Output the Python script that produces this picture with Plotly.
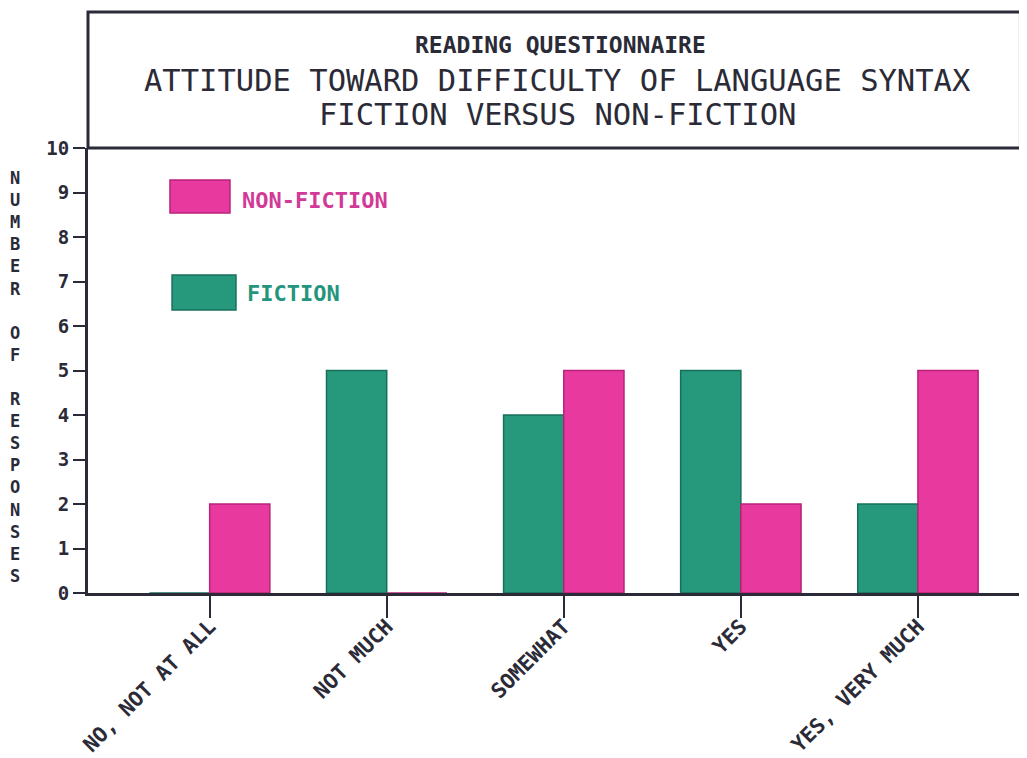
import plotly.graph_objects as go

categories = ["NO, NOT AT ALL", "NOT MUCH", "SOMEWHAT", "YES", "YES, VERY MUCH"]
fiction = [0, 5, 4, 5, 2]
non_fiction = [2, 0, 5, 2, 5]
y_ticks = list(range(0, 11))

title_lines = ["READING QUESTIONNAIRE",
               "ATTITUDE TOWARD DIFFICULTY OF LANGUAGE SYNTAX",
               "FICTION VERSUS NON-FICTION"]
y_title = "NUMBER OF RESPONSES"

GREEN = "#26997C"
GREEN_EDGE = "#17705B"
PINK = "#E83A9E"
PINK_EDGE = "#B8237A"
INK = "#2B2B38"
MONO = "DejaVu Sans Mono"

fig = go.Figure()
fig.add_trace(go.Bar(x=categories, y=fiction, name="FICTION",
                     marker=dict(color=GREEN, line=dict(color=GREEN_EDGE, width=1.5))))
fig.add_trace(go.Bar(x=categories, y=non_fiction, name="NON-FICTION",
                     marker=dict(color=PINK, line=dict(color=PINK_EDGE, width=1.5))))

fig.update_layout(
    width=1019, height=750,
    margin=dict(l=80, r=0, t=140, b=165),
    paper_bgcolor="white", plot_bgcolor="white",
    barmode="group", bargap=0.32, bargroupgap=0,
    showlegend=False,
    font=dict(family=MONO, color=INK),
)
fig.update_xaxes(
    range=[-0.687, 4.616], showgrid=False, zeroline=False,
    showline=True, linecolor=INK, linewidth=3,
    ticks="outside", ticklen=22, tickwidth=2, tickcolor=INK,
    tickangle=-45, tickfont=dict(family=MONO, size=21, color=INK, weight="bold"),
    ticklabelstandoff=-12,
    automargin=False,
)
fig.update_yaxes(
    range=[0, 10], tickvals=y_ticks, showgrid=False, zeroline=False,
    showline=True, linecolor=INK, linewidth=3,
    ticks="outside", ticklen=12, tickwidth=2, tickcolor=INK,
    tickfont=dict(family=MONO, size=19, color=INK, weight="bold"),
    automargin=False,
)

# title box
fig.add_shape(type="rect", xref="paper", yref="paper", x0=0, x1=0.993, y0=1.0, y1=1.3056,
              line=dict(color=INK, width=3))
fig.add_annotation(text=title_lines[0], xref="paper", yref="paper", x=0.503, y=1.2315,
                   xanchor="center", yanchor="middle", showarrow=False,
                   font=dict(family=MONO, size=23, color=INK, weight="bold"))
fig.add_annotation(text=title_lines[1], xref="paper", yref="paper", x=0.5, y=1.1528,
                   xanchor="center", yanchor="middle", showarrow=False,
                   font=dict(family=MONO, size=30.5, color=INK))
fig.add_annotation(text=title_lines[2], xref="paper", yref="paper", x=0.5, y=1.0742,
                   xanchor="center", yanchor="middle", showarrow=False,
                   font=dict(family=MONO, size=30.5, color=INK))

# stacked y title
fig.add_annotation(text="<br>".join(list(y_title)), xref="paper", yref="paper",
                   x=-0.0767, y=0.486, xanchor="center", yanchor="middle", showarrow=False,
                   font=dict(family=MONO, size=17, color=INK, weight="bold"))

# legend swatches
fig.add_shape(type="rect", xref="paper", yref="paper", x0=0.0873, x1=0.1512, y0=0.854, y1=0.928,
              fillcolor=PINK, line=dict(color=PINK_EDGE, width=1.5))
fig.add_annotation(text="NON-FICTION", xref="paper", yref="paper", x=0.162, y=0.883,
                   xanchor="left", yanchor="middle", showarrow=False,
                   font=dict(family=MONO, size=22, color="#D23A98", weight="bold"))
fig.add_shape(type="rect", xref="paper", yref="paper", x0=0.0895, x1=0.1576, y0=0.636, y1=0.7146,
              fillcolor=GREEN, line=dict(color=GREEN_EDGE, width=1.5))
fig.add_annotation(text="FICTION", xref="paper", yref="paper", x=0.167, y=0.672,
                   xanchor="left", yanchor="middle", showarrow=False,
                   font=dict(family=MONO, size=22, color="#23957C", weight="bold"))

fig.write_html("out.html")
